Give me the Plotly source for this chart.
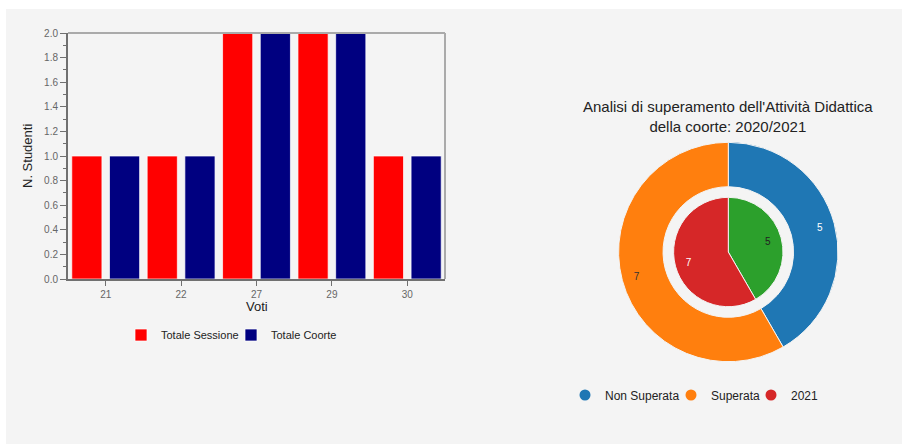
import plotly.graph_objects as go

# ---- data ----
voti = ["21", "22", "27", "29", "30"]
totale_sessione = [1, 1, 2, 2, 1]
totale_coorte = [1, 1, 2, 2, 1]

outer_labels = ["Non Superata", "Superata"]
outer_values = [5, 7]
inner_labels = ["Non Superata 2021", "2021"]
inner_values = [5, 7]

legend2_names = ["Non Superata", "Superata", "2021"]

W, H = 902, 444


def px(x):
    return x / W


def py(y):
    return (H - y) / H


fig = go.Figure()

fig.add_trace(go.Bar(x=voti, y=totale_sessione, name="Totale Sessione",
                     marker=dict(color="#ff0000", line=dict(color="rgba(255,255,255,0.7)", width=1)),
                     legend="legend", legendwidth=65))
fig.add_trace(go.Bar(x=voti, y=totale_coorte, name="Totale Coorte",
                     marker=dict(color="#000080", line=dict(color="rgba(255,255,255,0.7)", width=1)),
                     legend="legend", legendwidth=68))

CX, CY, R, RI = 728.3, 252.0, 109.7, 54.7
outer_dom = dict(x=[px(CX - R), px(CX + R)], y=[py(CY + R), py(CY - R)])
inner_dom = dict(x=[px(CX - RI), px(CX + RI)], y=[py(CY + RI), py(CY - RI)])

# outer ring
fig.add_trace(go.Pie(labels=outer_labels, values=outer_values, hole=0.595, sort=False,
                     direction="clockwise", rotation=0, showlegend=False,
                     marker=dict(colors=["#1f77b4", "#ff7f0e"], line=dict(color="#f4f4f4", width=1)),
                     textinfo="none", domain=outer_dom))
# outer ring labels (transparent ring, text only)
fig.add_trace(go.Pie(labels=outer_labels, values=outer_values, hole=0.73, sort=False,
                     direction="clockwise", rotation=0, showlegend=False, hoverinfo="skip",
                     marker=dict(colors=["rgba(0,0,0,0)", "rgba(0,0,0,0)"], line=dict(width=0)),
                     textinfo="value", textposition="inside", insidetextorientation="horizontal",
                     textfont=dict(size=10, color=["#ffffff", "#333333"], family="Liberation Sans"),
                     domain=outer_dom))
# inner pie
fig.add_trace(go.Pie(labels=inner_labels, values=inner_values, sort=False,
                     direction="clockwise", rotation=0, showlegend=False,
                     marker=dict(colors=["#2ca02c", "#d62728"], line=dict(color="#f4f4f4", width=1)),
                     textinfo="none", domain=inner_dom))
# inner pie labels
fig.add_trace(go.Pie(labels=inner_labels, values=inner_values, hole=0.5, sort=False,
                     direction="clockwise", rotation=0, showlegend=False, hoverinfo="skip",
                     marker=dict(colors=["rgba(0,0,0,0)", "rgba(0,0,0,0)"], line=dict(width=0)),
                     textinfo="value", textposition="inside", insidetextorientation="horizontal",
                     textfont=dict(size=10, color=["#222222", "#ffffff"], family="Liberation Sans"),
                     domain=inner_dom))

# pie legend entries (circle markers)
for name, col, lw in zip(legend2_names, ["#1f77b4", "#ff7f0e", "#d62728"], [61, 35, 30]):
    fig.add_trace(go.Scatter(x=[None], y=[None], mode="markers", name=name,
                             marker=dict(symbol="circle", size=11, color=col),
                             legend="legend2", legendwidth=lw, hoverinfo="skip"))

fig.update_layout(
    width=W, height=H,
    margin=dict(l=0, r=0, t=0, b=0),
    paper_bgcolor="#ffffff",
    plot_bgcolor="rgba(0,0,0,0)",
    font=dict(family="Liberation Sans", color="#333333"),
    barmode="group", bargap=0.0, bargroupgap=0.2,
    xaxis=dict(domain=[px(68), px(445)], type="category", categoryorder="array", categoryarray=voti,
               showline=True, linecolor="#707070", linewidth=2,
               ticks="outside", ticklen=5, tickcolor="#707070",
               tickfont=dict(size=10, color="#666666"), showgrid=False, zeroline=False,
               automargin=False),
    yaxis=dict(domain=[py(279), py(33)], range=[0, 2], dtick=0.2, tickformat=".1f",
               showline=True, linecolor="#707070", linewidth=2,
               ticks="outside", ticklen=6, tickcolor="#707070",
               minor=dict(dtick=0.1, ticks="outside", ticklen=3, tickcolor="#707070"),
               tickfont=dict(size=10, color="#666666"), showgrid=False, zeroline=False,
               automargin=False),
    legend=dict(orientation="h", x=px(121), xanchor="left", y=py(335), yanchor="middle",
                bgcolor="rgba(0,0,0,0)", font=dict(size=11, color="#222222"),
                itemwidth=30, traceorder="normal"),
    legend2=dict(orientation="h", x=px(565), xanchor="left", y=py(395), yanchor="middle",
                 bgcolor="rgba(0,0,0,0)", font=dict(size=12, color="#222222"),
                 itemwidth=30, traceorder="normal"),
    shapes=[
        dict(type="rect", xref="paper", yref="paper", x0=px(6), x1=1.0, y0=0, y1=py(9),
             fillcolor="#f4f4f4", line=dict(width=0), layer="below"),
        dict(type="line", xref="paper", yref="paper", x0=px(68), x1=px(445), y0=py(33), y1=py(33),
             line=dict(color="#aaaaaa", width=2)),
        dict(type="line", xref="paper", yref="paper", x0=px(445), x1=px(445), y0=py(33), y1=py(279),
             line=dict(color="#aaaaaa", width=2)),
    ],
    annotations=[
        dict(text="N. Studenti", xref="paper", yref="paper", x=px(28), y=py(156),
             textangle=-90, showarrow=False, font=dict(size=13, color="#222222"),
             xanchor="center", yanchor="middle"),
        dict(text="Voti", xref="paper", yref="paper", x=px(257), y=py(306),
             showarrow=False, font=dict(size=13, color="#222222"),
             xanchor="center", yanchor="middle"),
        dict(text="Analisi di superamento dell'Attività Didattica<br>della coorte: 2020/2021",
             xref="paper", yref="paper", x=px(728.4), y=py(117), showarrow=False,
             font=dict(size=15, color="#222222"), xanchor="center", yanchor="middle"),
    ],
)

fig.write_html("out.html", config={"displayModeBar": False},
               post_script="document.body.style.margin='0px';")
